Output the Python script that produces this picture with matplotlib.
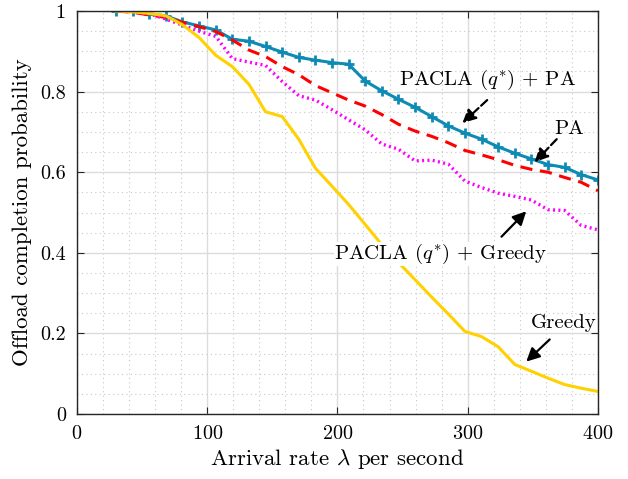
import numpy as np
import matplotlib
matplotlib.use("Agg")
import matplotlib.pyplot as plt
from matplotlib.ticker import MultipleLocator

plt.rcParams['font.family'] = 'serif'
plt.rcParams['font.serif'] = ['cmr10']
plt.rcParams['mathtext.fontset'] = 'cm'
plt.rcParams['axes.formatter.use_mathtext'] = True

# arrival rates (per second)
rate = [30.0, 42.8, 55.5, 68.3, 81.0, 93.8, 106.6, 119.3, 132.1, 144.8,
        157.6, 170.3, 183.1, 195.9, 208.6, 221.4, 234.1, 246.9, 259.7, 272.4,
        285.2, 297.9, 310.7, 323.4, 336.2, 349.0, 361.7, 374.5, 387.2, 400.0]

pacla_pa = [1.0, 1.0, 0.993, 0.988, 0.973, 0.963, 0.953, 0.930, 0.925, 0.912,
            0.898, 0.885, 0.878, 0.872, 0.868, 0.826, 0.802, 0.781, 0.761, 0.738,
            0.715, 0.697, 0.682, 0.663, 0.647, 0.633, 0.619, 0.612, 0.594, 0.581]

pa = [1.0, 0.997, 0.990, 0.984, 0.972, 0.961, 0.949, 0.928, 0.903, 0.887,
      0.862, 0.842, 0.815, 0.797, 0.779, 0.764, 0.743, 0.719, 0.702, 0.689,
      0.673, 0.654, 0.643, 0.631, 0.617, 0.607, 0.600, 0.587, 0.575, 0.554]

pacla_greedy = [1.0, 0.998, 0.993, 0.980, 0.965, 0.950, 0.937, 0.882, 0.873, 0.865,
                0.825, 0.790, 0.779, 0.755, 0.730, 0.705, 0.670, 0.657, 0.628, 0.630,
                0.620, 0.578, 0.562, 0.548, 0.540, 0.531, 0.507, 0.505, 0.468, 0.457]

greedy = [1.0, 0.998, 0.994, 0.988, 0.966, 0.934, 0.890, 0.862, 0.818, 0.750,
          0.738, 0.682, 0.610, 0.565, 0.520, 0.470, 0.420, 0.376, 0.333, 0.290,
          0.248, 0.205, 0.192, 0.167, 0.123, 0.106, 0.089, 0.073, 0.064, 0.056]

xticks = [0, 100, 200, 300, 400]
yticks = [0, 0.2, 0.4, 0.6, 0.8, 1]
ytick_labels = ['0', '0.2', '0.4', '0.6', '0.8', '1']

fig = plt.figure(figsize=(6.28, 4.79), dpi=100)
ax = fig.add_axes([0.1226, 0.1357, 0.8294, 0.8413])

ax.plot(rate, pacla_pa, color='#0E8BB5', lw=2.2, marker='+', ms=7, mew=2)
ax.plot(rate, pa, color='#FF0000', lw=2.2, dashes=(4, 2.5))
ax.plot(rate, pacla_greedy, color='#FF00FF', lw=2.4, linestyle=(0, (0.6, 1.0)))
ax.plot(rate, greedy, color='#FFD100', lw=2.2)

ax.set_xlim(0, 400)
ax.set_ylim(0, 1)
ax.set_xticks(xticks)
ax.set_yticks(yticks)
ax.set_yticklabels(ytick_labels)
ax.xaxis.set_minor_locator(MultipleLocator(20))
ax.yaxis.set_minor_locator(MultipleLocator(0.05))
ax.grid(True, which='major', color='#dcdcdc', lw=1)
ax.grid(True, which='minor', color='#c8c8c8', lw=0.8, linestyle=(0, (1, 3)))
ax.set_axisbelow(True)
ax.tick_params(which='major', direction='in', top=True, right=True, length=5,
               labelsize=14.5, color='#262626', pad=8)
ax.tick_params(which='minor', length=0)
for s in ax.spines.values():
    s.set_color('#262626')
    s.set_linewidth(1)

ax.set_xlabel(r'Arrival rate $\lambda$ per second', fontsize=16.5, labelpad=3)
ax.set_ylabel('Offload completion probability', fontsize=16.5, labelpad=6)

arr_dash = dict(arrowstyle='-|>', color='k', lw=1.6, mutation_scale=20, linestyle='--',
                shrinkA=0, shrinkB=0)
arr_solid = dict(arrowstyle='-|>', color='k', lw=1.6, mutation_scale=20,
                 shrinkA=0, shrinkB=0)

ax.text(315.5, 0.829, r'PACLA $(q^{*})$ + PA', fontsize=15, ha='center', va='center')
ax.annotate('', xy=(296, 0.722), xytext=(315, 0.779), arrowprops=arr_dash)

ax.text(378, 0.706, 'PA', fontsize=15, ha='center', va='center')
ax.annotate('', xy=(351.5, 0.625), xytext=(368.4, 0.682), arrowprops=arr_dash)

ax.text(279, 0.397, r'PACLA $(q^{*})$ + Greedy', fontsize=15, ha='center', va='center',
        bbox=dict(facecolor='white', edgecolor='none', pad=0))
ax.annotate('', xy=(345, 0.503), xytext=(326, 0.44), arrowprops=arr_solid)

ax.text(374, 0.226, 'Greedy', fontsize=15, ha='center', va='center')
ax.annotate('', xy=(345, 0.130), xytext=(363, 0.185), arrowprops=arr_solid)

fig.savefig('out.png', dpi=100)
